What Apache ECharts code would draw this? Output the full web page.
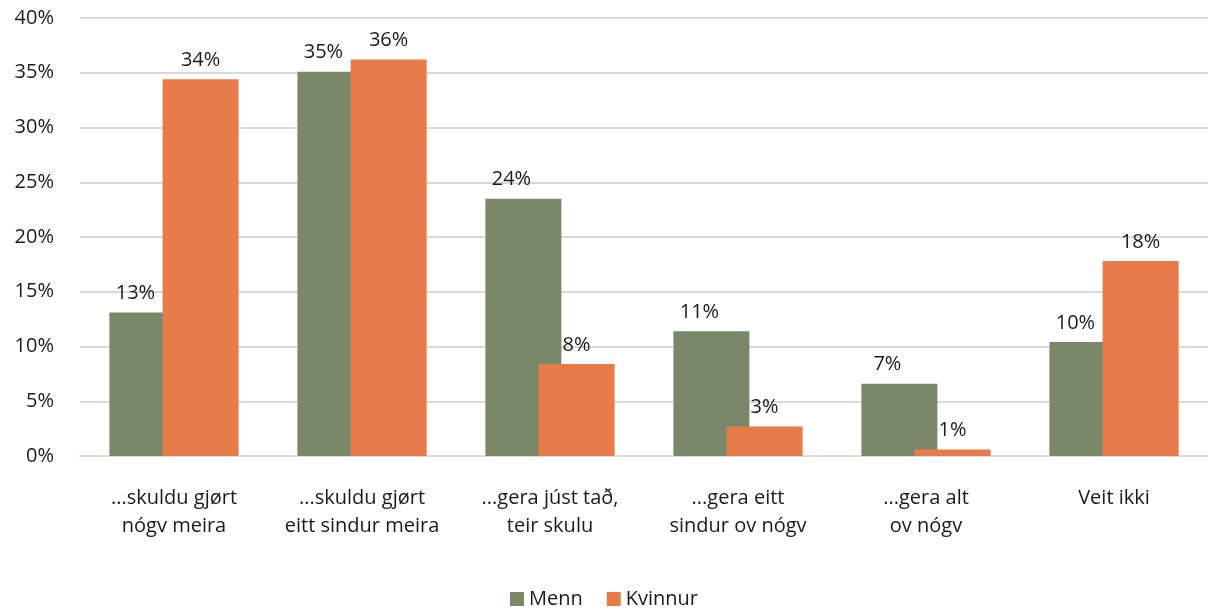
<!DOCTYPE html>
<html>
<head>
<meta charset="utf-8">
<script src="https://cdn.jsdelivr.net/npm/echarts@6/dist/echarts.min.js"></script>
<style>
  html, body { margin: 0; padding: 0; background: #fff; }
  #chart { width: 1208px; height: 611px; }
</style>
</head>
<body>
<div id="chart"></div>
<script>
// kategoriir og virði (í %)
const categories = [
  '...skuldu gjørt\nnógv meira',
  '...skuldu gjørt\neitt sindur meira',
  '...gera júst tað,\nteir skulu',
  '...gera eitt\nsindur ov nógv',
  '...gera alt\nov nógv',
  'Veit ikki'
]
const menn = [13.1, 35.1, 23.5, 11.4, 6.6, 10.4]
const kvinnur = [34.4, 36.2, 8.4, 2.7, 0.6, 17.8]
const yTicks = [0, 5, 10, 15, 20, 25, 30, 35, 40]

const fontFam = '"Open Sans", "Noto Sans", sans-serif'
const chart = echarts.init(document.getElementById('chart'))

function labelCfg (dx) {
  return {
    show: true,
    position: 'top',
    distance: 9,
    offset: [dx, 0],
    color: '#1a1a1a',
    fontSize: 20,
    fontFamily: fontFam,
    formatter: p => Math.round(p.value) + '%'
  }
}

chart.setOption({
  animation: false,
  grid: { left: 80, right: -3, top: 18, bottom: 155 },
  legend: {
    bottom: -3,
    left: 'center',
    itemWidth: 14,
    itemHeight: 14,
    itemGap: 24,
    icon: 'rect',
    textStyle: { fontSize: 20, fontFamily: fontFam, color: '#1a1a1a' },
    data: ['Menn', 'Kvinnur']
  },
  xAxis: {
    type: 'category',
    data: categories,
    axisTick: { show: false },
    axisLine: { lineStyle: { color: '#d9d9d9', width: 2 } },
    axisLabel: {
      interval: 0,
      color: '#1a1a1a',
      fontSize: 20,
      fontFamily: fontFam,
      lineHeight: 28,
      margin: 28
    }
  },
  yAxis: {
    type: 'value',
    min: yTicks[0],
    max: yTicks[yTicks.length - 1],
    interval: 5,
    axisLine: { show: false },
    axisTick: { show: false },
    splitLine: { lineStyle: { color: '#d9d9d9', width: 2 } },
    axisLabel: {
      color: '#1a1a1a',
      fontSize: 20,
      fontFamily: fontFam,
      margin: 26,
      formatter: '{value}%'
    }
  },
  series: [
    {
      name: 'Menn',
      type: 'bar',
      data: menn,
      barWidth: 76,
      barGap: '-30%',
      itemStyle: { color: '#7a8768' },
      label: labelCfg(-12)
    },
    {
      name: 'Kvinnur',
      type: 'bar',
      data: kvinnur,
      barWidth: 76,
      itemStyle: { color: '#e87b4a' },
      label: labelCfg(0)
    }
  ]
})
</script>
</body>
</html>
